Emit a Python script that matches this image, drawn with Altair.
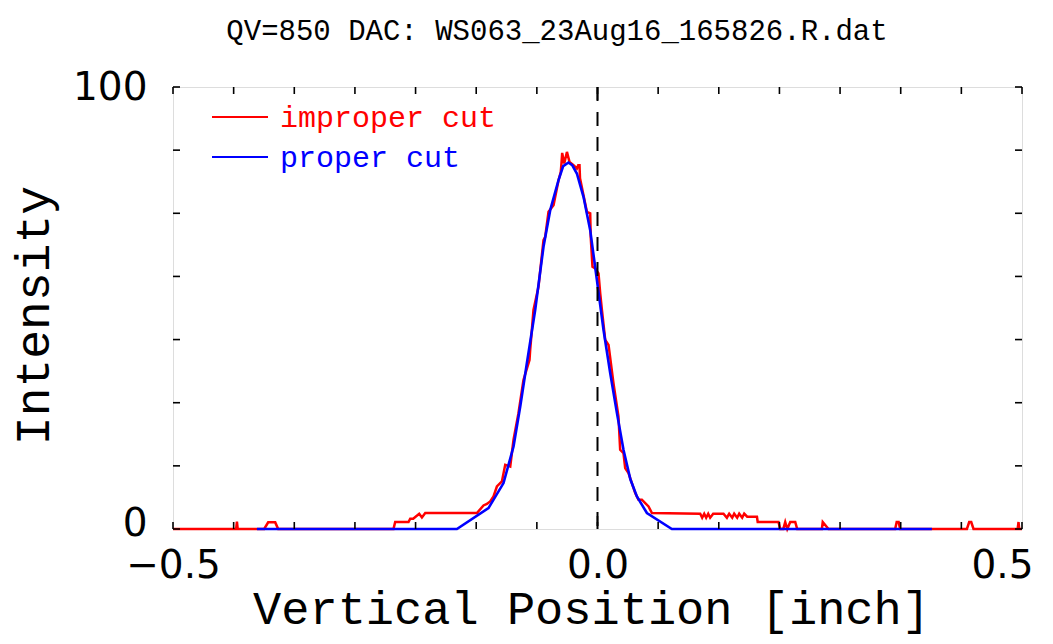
import altair as alt
import pandas as pd

# ---- data ----
series_names = ["improper cut", "proper cut"]
series_colors = ["#ff0000", "#0000ff"]

improper_x = [
    -0.5, -0.4256, -0.4247, -0.4238, -0.3926, -0.3879, -0.3796, -0.3761,
    -0.2403, -0.2383, -0.2226, -0.2206, -0.2171, -0.21, -0.2068, -0.2029, -0.142,
    -0.1343, -0.1303, -0.1264, -0.1225, -0.1185, -0.1126, -0.1087, -0.1028, -0.0989,
    -0.0931, -0.0872, -0.0801, -0.0793, -0.0773, -0.0754, -0.0695, -0.0636, -0.0616,
    -0.0577, -0.0518, -0.0459,
    -0.0433, -0.0425, -0.0416, -0.0392, -0.036, -0.033, -0.0283, -0.0243, -0.0227,
    -0.0212, -0.0206,
    -0.0165, -0.0125, -0.0086, -0.008, -0.0059, -0.0027, 0.0012, 0.0032, 0.0052,
    0.0091, 0.013, 0.0188, 0.0247, 0.0267, 0.0306, 0.0326, 0.0365, 0.0405, 0.0444,
    0.0483, 0.0523, 0.0562, 0.0601, 0.0641,
    0.121, 0.1233, 0.1257, 0.128, 0.1304, 0.1327, 0.1363, 0.1484, 0.1524, 0.1551,
    0.1587, 0.161, 0.1645, 0.1669, 0.1704, 0.1728, 0.1763, 0.1878, 0.1887, 0.2132,
    0.2152,
    0.2188, 0.2211, 0.2235, 0.227, 0.2329, 0.2352, 0.2643, 0.2653, 0.2721, 0.3506,
    0.3524, 0.3547, 0.3565, 0.4351, 0.4378, 0.4402, 0.4429, 0.4949, 0.4959, 0.4967,
    0.5,
]
improper_y = [
    0, 0, 1.65, 0, 0, 1.5, 1.5, 0,
    0, 1.58, 1.58, 2.33, 2.33, 3.46, 2.62, 3.61, 3.61,
    5.33, 5.65, 6.24, 7.37, 9.62, 10.75, 14.53, 14.14, 20.18,
    26.21, 33.73, 38.25, 40.51, 45.03, 49.55, 54.81, 65.36, 66.11,
    71.76, 73.27, 78.92,
    80.73, 82.54, 85.09, 82.69, 85.31, 83.06, 82.31, 81.56, 82.31,
    82.31, 79.37,
    75.53, 71.76, 71.4, 66.11, 59.33, 58.97, 57.84, 53.32, 49.55,
    42.77, 41.64, 32.99, 25.44, 17.92, 17.17, 13.78, 12.65, 10.39, 8.13,
    6.62, 6.62, 5.87, 5.1, 3.61,
    3.46, 2.55, 3.46, 2.55, 3.46, 2.55, 3.46, 3.46, 2.55, 3.46,
    2.55, 3.46, 2.55, 3.46, 2.55, 3.46, 2.78, 2.78, 1.58, 1.58,
    0,
    0, 1.58, 0, 1.58, 1.58, 0, 0, 1.58, 0, 0,
    1.58, 1.58, 0, 0, 1.58, 1.58, 0, 0, 1.58, 0,
    0,
]

proper_x = [
    -0.4012, -0.1656, -0.1284, -0.1107, -0.0989, -0.091, -0.0832, -0.0734, -0.0636,
    -0.0557, -0.0459, -0.0404, -0.0342, -0.0298, -0.0243, -0.0165, -0.0086, -0.0007,
    0.0071, 0.015, 0.0229, 0.0306, 0.0388, 0.0464, 0.0582, 0.0876, 0.3939,
]
proper_y = [
    0, 0, 4.74, 10.39, 18.66, 27.7, 37.51, 49.55, 63.85,
    72.14, 78.92, 82.1, 82.92, 82.3, 80.43, 75.15, 67.62, 56.33,
    45.03, 35.25, 26.21, 17.92, 11.2, 7.37, 3.61, 0, 0,
]

x_tick_values = [-0.5, -0.42857, -0.35714, -0.28571, -0.21429, -0.14286, -0.07143,
                 0.0, 0.07143, 0.14286, 0.21429, 0.28571, 0.35714, 0.42857, 0.5]
x_major_ticks = [0.0]
x_label_values = [-0.5, 0.0, 0.5]
y_tick_values = [0, 14.286, 28.571, 42.857, 57.143, 71.429, 85.714, 100]
y_label_values = [0, 100]
marker_x = [0.0]

title_text = "QV=850 DAC: WS063_23Aug16_165826.R.dat"
x_title = "Vertical Position [inch]"
y_title = "Intensity"

W, H = 849, 442

improper_df = pd.DataFrame({"x": improper_x, "y": improper_y})
proper_df = pd.DataFrame({"x": proper_x, "y": proper_y})

xscale = alt.Scale(domain=[-0.5, 0.5], nice=False, zero=False)
yscale = alt.Scale(domain=[0, 100], nice=False)

xaxis = alt.Axis(
    values=x_label_values, format=".1f", ticks=False, domain=False, grid=False,
    labelFont="DejaVu Sans", labelFontSize=39, labelColor="black", labelPadding=17,
    labelFlush=False, labelOverlap=False,
    labelOffset={"expr": "datum.value > 0.4 ? -20 : 0"},
    title=x_title, titleFont="Liberation Mono", titleFontSize=47,
    titleFontWeight="normal", titleColor="black",
    titleBaseline="alphabetic", titleY=94, titleX=418,
)
yaxis = alt.Axis(
    values=y_label_values, format="d", ticks=False, domain=False, grid=False,
    labelFont="DejaVu Sans", labelFontSize=39, labelColor="black", labelPadding=26,
    labelFlush=False, labelOverlap=False,
    labelOffset={"expr": "datum.value < 1 ? -6 : 0"},
    title=y_title, titleFont="Liberation Mono", titleFontSize=48,
    titleFontWeight="normal", titleColor="black", titleAngle=270,
    titleBaseline="alphabetic", titleX=-125, titleY=228,
)


def X(field="x:Q"):
    return alt.X(field, scale=xscale, axis=xaxis)


def Y(field="y:Q"):
    return alt.Y(field, scale=yscale, axis=yaxis)


red_line = alt.Chart(improper_df).mark_line(
    color=series_colors[0], strokeWidth=2.5, interpolate="linear"
).encode(x=X(), y=Y())

blue_line = alt.Chart(proper_df).mark_line(
    color=series_colors[1], strokeWidth=2.6, interpolate="linear"
).encode(x=X(), y=Y())

dash_line = alt.Chart(pd.DataFrame({"x": marker_x})).mark_rule(
    color="black", strokeWidth=2, strokeDash=[14, 11]
).encode(x=X())

xt_df = pd.DataFrame({"x": x_tick_values})
xmaj_df = pd.DataFrame({"x": x_major_ticks})
yt_df = pd.DataFrame({"y": y_tick_values})

tick_style = dict(color="black", strokeWidth=1.6)
x_ticks_bottom = alt.Chart(xt_df).mark_rule(**tick_style).encode(
    x=X(), y=alt.value(H), y2=alt.value(H - 7))
x_ticks_top = alt.Chart(xt_df).mark_rule(**tick_style).encode(
    x=X(), y=alt.value(0), y2=alt.value(7))
x_major_bottom = alt.Chart(xmaj_df).mark_rule(**tick_style).encode(
    x=X(), y=alt.value(H), y2=alt.value(H - 13))
x_major_top = alt.Chart(xmaj_df).mark_rule(**tick_style).encode(
    x=X(), y=alt.value(0), y2=alt.value(13))
y_ticks_left = alt.Chart(yt_df).mark_rule(**tick_style).encode(
    y=Y(), x=alt.value(0), x2=alt.value(7))
y_ticks_right = alt.Chart(yt_df).mark_rule(**tick_style).encode(
    y=Y(), x=alt.value(W), x2=alt.value(W - 7))

# chart title, drawn above the plot area
title_mark = alt.Chart(pd.DataFrame({"t": [title_text]})).mark_text(
    font="Liberation Mono", fontSize=29, color="black", align="center",
    baseline="alphabetic"
).encode(text="t:N", x=alt.value(384), y=alt.value(-47))

# legend (drawn in the upper-left corner of the plot)
legend_layers = []
for i, (name, col) in enumerate(zip(series_names, series_colors)):
    ly = 30 + 40 * i
    ldf = pd.DataFrame({"label": [name]})
    legend_layers.append(
        alt.Chart(ldf).mark_rule(color=col, strokeWidth=2.2).encode(
            x=alt.value(39), x2=alt.value(95), y=alt.value(ly))
    )
    legend_layers.append(
        alt.Chart(ldf).mark_text(
            color=col, font="Liberation Mono", fontSize=30, align="left",
            baseline="middle", dy=1
        ).encode(text="label:N", x=alt.value(107), y=alt.value(ly))
    )

chart = alt.layer(
    red_line, blue_line, dash_line,
    x_ticks_bottom, x_ticks_top, x_major_bottom, x_major_top,
    y_ticks_left, y_ticks_right, title_mark,
    *legend_layers,
).properties(
    width=W, height=H,
    padding={"left": 165, "top": 79, "right": 23, "bottom": 107},
    autosize=alt.AutoSizeParams(type="none"),
).configure_view(
    stroke="black", strokeWidth=2
).configure(background="white")

chart.save("out.html", embed_options={"renderer": "svg", "actions": False})
